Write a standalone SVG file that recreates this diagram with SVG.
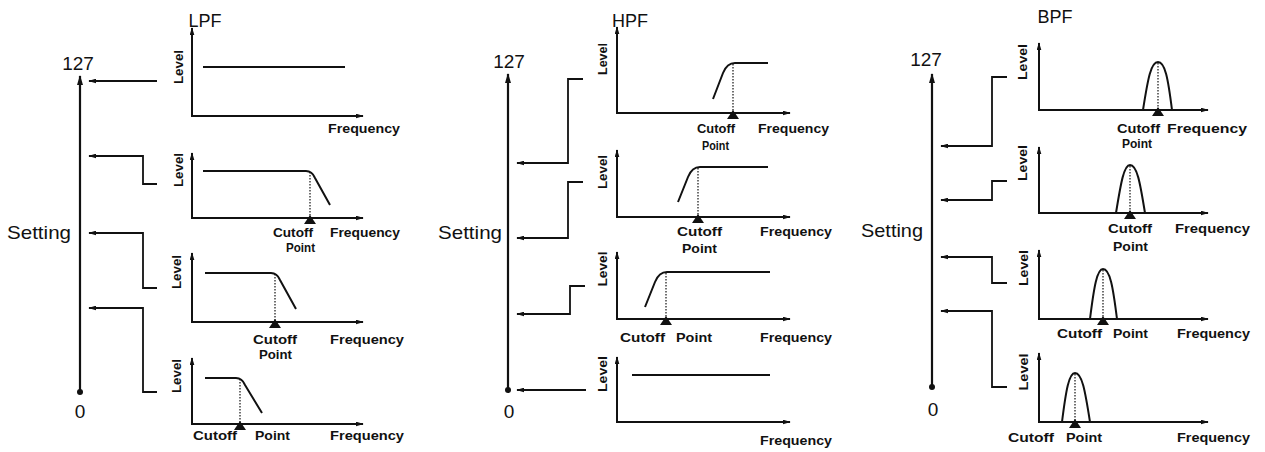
<svg xmlns="http://www.w3.org/2000/svg" width="1265" height="452" viewBox="0 0 1265 452">
<style>
.bg{fill:#fff}
.t{font-family:"Liberation Sans",Arial,sans-serif;fill:#111}
.title{font-size:18px}
.num{font-size:19px}
.lbl{font-size:13px;font-weight:bold}
.lv{font-size:12.5px;font-weight:bold}
.ax{stroke:#111;stroke-width:2;fill:none}
.main{stroke:#111;stroke-width:2.2;fill:none}
.cv{stroke:#111;stroke-width:2;fill:none;stroke-linejoin:round}
.dot{stroke:#111;stroke-width:1.2;stroke-dasharray:1.5 1.5;fill:none}
.con{stroke:#111;stroke-width:1.8;fill:none}
.tri{fill:#111}
</style>
<defs>
<marker id="ah" viewBox="0 0 10 6" refX="9" refY="3" markerWidth="8" markerHeight="5" orient="auto" markerUnits="userSpaceOnUse"><path d="M0,0 L10,3 L0,6 z" fill="#111"/></marker>
<marker id="ahb" viewBox="0 0 10 6" refX="9" refY="3" markerWidth="12" markerHeight="6" orient="auto" markerUnits="userSpaceOnUse"><path d="M0,0 L10,3 L0,6 z" fill="#111"/></marker>
</defs>
<rect class="bg" x="0" y="0" width="1265" height="452"/>

<!-- ========== LPF ========== -->
<g id="lpf-scale">
<text class="t title" x="205" y="27" text-anchor="middle">LPF</text>
<text class="t num" x="78" y="70" text-anchor="middle">127</text>
<text class="t num" x="7" y="239" textLength="64" lengthAdjust="spacingAndGlyphs">Setting</text>
<text class="t num" x="80" y="418" text-anchor="middle">0</text>
<line class="main" x1="80" y1="392" x2="80" y2="76" marker-end="url(#ahb)"/>
<circle cx="80" cy="392" r="3" fill="#111"/>
</g>

<g id="lpf-g1">
<line class="ax" x1="192" y1="116" x2="192" y2="28" marker-end="url(#ah)"/>
<line class="ax" x1="191" y1="116" x2="363" y2="116" marker-end="url(#ah)"/>
<path class="cv" d="M203,67 H345"/>
<text class="t lv" transform="translate(183,67) rotate(-90)" text-anchor="middle" textLength="34" lengthAdjust="spacingAndGlyphs">Level</text>
<text class="t lbl" x="328" y="133" textLength="72" lengthAdjust="spacingAndGlyphs">Frequency</text>
</g>

<g id="lpf-g2">
<line class="ax" x1="192" y1="218" x2="192" y2="153" marker-end="url(#ah)"/>
<line class="ax" x1="191" y1="218" x2="363" y2="218" marker-end="url(#ah)"/>
<path class="cv" d="M203,171 H306 Q312,171 315,178 L330,205"/>
<line class="dot" x1="310" y1="172" x2="310" y2="217"/>
<path class="tri" d="M304,224 L310,215 L316,224 z"/>
<text class="t lv" transform="translate(183,170) rotate(-90)" text-anchor="middle" textLength="34" lengthAdjust="spacingAndGlyphs">Level</text>
<text class="t lbl" x="273" y="237" textLength="40" lengthAdjust="spacingAndGlyphs">Cutoff</text>
<text class="t lbl" x="286" y="252" textLength="29" lengthAdjust="spacingAndGlyphs">Point</text>
<text class="t lbl" x="330" y="237" textLength="70" lengthAdjust="spacingAndGlyphs">Frequency</text>
</g>

<g id="lpf-g3">
<line class="ax" x1="192" y1="322" x2="192" y2="253" marker-end="url(#ah)"/>
<line class="ax" x1="191" y1="322" x2="363" y2="322" marker-end="url(#ah)"/>
<path class="cv" d="M205,273 H271 Q277,273 280,280 L296,309"/>
<line class="dot" x1="275" y1="274" x2="275" y2="321"/>
<path class="tri" d="M269,328 L275,319 L281,328 z"/>
<text class="t lv" transform="translate(181,272) rotate(-90)" text-anchor="middle" textLength="34" lengthAdjust="spacingAndGlyphs">Level</text>
<text class="t lbl" x="253" y="344" textLength="44" lengthAdjust="spacingAndGlyphs">Cutoff</text>
<text class="t lbl" x="259" y="359" textLength="33" lengthAdjust="spacingAndGlyphs">Point</text>
<text class="t lbl" x="330" y="344" textLength="74" lengthAdjust="spacingAndGlyphs">Frequency</text>
</g>

<g id="lpf-g4">
<line class="ax" x1="192" y1="424" x2="192" y2="358" marker-end="url(#ah)"/>
<line class="ax" x1="191" y1="424" x2="363" y2="424" marker-end="url(#ah)"/>
<path class="cv" d="M205,378 H236 Q242,378 245,385 L262,413"/>
<line class="dot" x1="240" y1="379" x2="240" y2="423"/>
<path class="tri" d="M234,430 L240,421 L246,430 z"/>
<text class="t lv" transform="translate(181,376) rotate(-90)" text-anchor="middle" textLength="34" lengthAdjust="spacingAndGlyphs">Level</text>
<text class="t lbl" x="193" y="440" textLength="44" lengthAdjust="spacingAndGlyphs">Cutoff</text>
<text class="t lbl" x="255" y="440" textLength="35" lengthAdjust="spacingAndGlyphs">Point</text>
<text class="t lbl" x="330" y="440" textLength="74" lengthAdjust="spacingAndGlyphs">Frequency</text>
</g>

<!-- ========== HPF ========== -->
<g id="hpf-scale">
<text class="t title" x="630" y="27" text-anchor="middle">HPF</text>
<text class="t num" x="509" y="68" text-anchor="middle">127</text>
<text class="t num" x="438" y="239" textLength="64" lengthAdjust="spacingAndGlyphs">Setting</text>
<text class="t num" x="509" y="418" text-anchor="middle">0</text>
<line class="main" x1="508" y1="390" x2="508" y2="74" marker-end="url(#ahb)"/>
<circle cx="508" cy="390" r="3" fill="#111"/>
</g>

<g id="hpf-g1">
<line class="ax" x1="617" y1="113" x2="617" y2="27" marker-end="url(#ah)"/>
<line class="ax" x1="616" y1="113" x2="790" y2="113" marker-end="url(#ah)"/>
<path class="cv" d="M713,99 L723,73 Q727,63 735,63 H768"/>
<line class="dot" x1="733" y1="64" x2="733" y2="112"/>
<path class="tri" d="M727,119 L733,110 L739,119 z"/>
<text class="t lv" transform="translate(607,59) rotate(-90)" text-anchor="middle" textLength="32" lengthAdjust="spacingAndGlyphs">Level</text>
<text class="t lbl" x="697" y="133" textLength="38" lengthAdjust="spacingAndGlyphs">Cutoff</text>
<text class="t lbl" x="702" y="150" textLength="27" lengthAdjust="spacingAndGlyphs">Point</text>
<text class="t lbl" x="758" y="133" textLength="71" lengthAdjust="spacingAndGlyphs">Frequency</text>
</g>

<g id="hpf-g2">
<line class="ax" x1="617" y1="217" x2="617" y2="150" marker-end="url(#ah)"/>
<line class="ax" x1="616" y1="217" x2="790" y2="217" marker-end="url(#ah)"/>
<path class="cv" d="M678,202 L688,177 Q692,167 700,167 H768"/>
<line class="dot" x1="698" y1="168" x2="698" y2="216"/>
<path class="tri" d="M692,223 L698,214 L704,223 z"/>
<text class="t lv" transform="translate(607,172) rotate(-90)" text-anchor="middle" textLength="34" lengthAdjust="spacingAndGlyphs">Level</text>
<text class="t lbl" x="677" y="236" textLength="45" lengthAdjust="spacingAndGlyphs">Cutoff</text>
<text class="t lbl" x="682" y="253" textLength="35" lengthAdjust="spacingAndGlyphs">Point</text>
<text class="t lbl" x="760" y="236" textLength="72" lengthAdjust="spacingAndGlyphs">Frequency</text>
</g>

<g id="hpf-g3">
<line class="ax" x1="617" y1="319" x2="617" y2="252" marker-end="url(#ah)"/>
<line class="ax" x1="616" y1="319" x2="790" y2="319" marker-end="url(#ah)"/>
<path class="cv" d="M645,307 L655,282 Q659,272 667,272 H770"/>
<line class="dot" x1="666" y1="273" x2="666" y2="318"/>
<path class="tri" d="M660,325 L666,316 L672,325 z"/>
<text class="t lv" transform="translate(607,269) rotate(-90)" text-anchor="middle" textLength="35" lengthAdjust="spacingAndGlyphs">Level</text>
<text class="t lbl" x="620" y="342" textLength="45" lengthAdjust="spacingAndGlyphs">Cutoff</text>
<text class="t lbl" x="676" y="342" textLength="36" lengthAdjust="spacingAndGlyphs">Point</text>
<text class="t lbl" x="760" y="342" textLength="72" lengthAdjust="spacingAndGlyphs">Frequency</text>
</g>

<g id="hpf-g4">
<line class="ax" x1="617" y1="422" x2="617" y2="357" marker-end="url(#ah)"/>
<line class="ax" x1="616" y1="422" x2="790" y2="422" marker-end="url(#ah)"/>
<path class="cv" d="M632,375 H770"/>
<text class="t lv" transform="translate(607,374) rotate(-90)" text-anchor="middle" textLength="36" lengthAdjust="spacingAndGlyphs">Level</text>
<text class="t lbl" x="760" y="445" textLength="72" lengthAdjust="spacingAndGlyphs">Frequency</text>
</g>

<!-- ========== BPF ========== -->
<g id="bpf-scale">
<text class="t title" x="1055" y="23" text-anchor="middle">BPF</text>
<text class="t num" x="926" y="66" text-anchor="middle">127</text>
<text class="t num" x="861" y="237" textLength="62" lengthAdjust="spacingAndGlyphs">Setting</text>
<text class="t num" x="933" y="416" text-anchor="middle">0</text>
<line class="main" x1="932" y1="387" x2="932" y2="74" marker-end="url(#ahb)"/>
<circle cx="932" cy="387" r="3" fill="#111"/>
</g>

<g id="bpf-g1">
<line class="ax" x1="1039" y1="110" x2="1039" y2="43" marker-end="url(#ah)"/>
<line class="ax" x1="1038" y1="110" x2="1208" y2="110" marker-end="url(#ah)"/>
<path class="cv" d="M1143,110 C1148,78 1151,62 1158,62 C1165,62 1168,78 1172,110"/>
<line class="dot" x1="1158" y1="63" x2="1158" y2="109"/>
<path class="tri" d="M1152,116 L1158,107 L1164,116 z"/>
<text class="t lv" transform="translate(1027,62) rotate(-90)" text-anchor="middle" textLength="36" lengthAdjust="spacingAndGlyphs">Level</text>
<text class="t lbl" x="1117" y="133" textLength="43" lengthAdjust="spacingAndGlyphs">Cutoff</text>
<text class="t lbl" x="1122" y="148" textLength="30" lengthAdjust="spacingAndGlyphs">Point</text>
<text class="t lbl" x="1167" y="133" textLength="80" lengthAdjust="spacingAndGlyphs">Frequency</text>
</g>

<g id="bpf-g2">
<line class="ax" x1="1039" y1="213" x2="1039" y2="147" marker-end="url(#ah)"/>
<line class="ax" x1="1038" y1="213" x2="1208" y2="213" marker-end="url(#ah)"/>
<path class="cv" d="M1116,213 C1121,182 1124,165 1130,165 C1137,165 1140,182 1145,213"/>
<line class="dot" x1="1130" y1="166" x2="1130" y2="212"/>
<path class="tri" d="M1124,219 L1130,210 L1136,219 z"/>
<text class="t lv" transform="translate(1027,163) rotate(-90)" text-anchor="middle" textLength="36" lengthAdjust="spacingAndGlyphs">Level</text>
<text class="t lbl" x="1108" y="233" textLength="44" lengthAdjust="spacingAndGlyphs">Cutoff</text>
<text class="t lbl" x="1113" y="251" textLength="35" lengthAdjust="spacingAndGlyphs">Point</text>
<text class="t lbl" x="1175" y="233" textLength="75" lengthAdjust="spacingAndGlyphs">Frequency</text>
</g>

<g id="bpf-g3">
<line class="ax" x1="1039" y1="319" x2="1039" y2="250" marker-end="url(#ah)"/>
<line class="ax" x1="1038" y1="319" x2="1208" y2="319" marker-end="url(#ah)"/>
<path class="cv" d="M1090,319 C1094,287 1097,269 1103,269 C1110,269 1113,287 1117,319"/>
<line class="dot" x1="1103" y1="270" x2="1103" y2="318"/>
<path class="tri" d="M1097,325 L1103,316 L1109,325 z"/>
<text class="t lv" transform="translate(1028,268) rotate(-90)" text-anchor="middle" textLength="36" lengthAdjust="spacingAndGlyphs">Level</text>
<text class="t lbl" x="1057" y="338" textLength="45" lengthAdjust="spacingAndGlyphs">Cutoff</text>
<text class="t lbl" x="1113" y="338" textLength="35" lengthAdjust="spacingAndGlyphs">Point</text>
<text class="t lbl" x="1177" y="338" textLength="73" lengthAdjust="spacingAndGlyphs">Frequency</text>
</g>

<g id="bpf-g4">
<line class="ax" x1="1039" y1="422" x2="1039" y2="353" marker-end="url(#ah)"/>
<line class="ax" x1="1038" y1="422" x2="1208" y2="422" marker-end="url(#ah)"/>
<path class="cv" d="M1062,422 C1066,390 1069,373 1075,373 C1082,373 1085,390 1090,422"/>
<line class="dot" x1="1075" y1="374" x2="1075" y2="421"/>
<path class="tri" d="M1069,428 L1075,419 L1081,428 z"/>
<text class="t lv" transform="translate(1028,372) rotate(-90)" text-anchor="middle" textLength="37" lengthAdjust="spacingAndGlyphs">Level</text>
<text class="t lbl" x="1008" y="442" textLength="46" lengthAdjust="spacingAndGlyphs">Cutoff</text>
<text class="t lbl" x="1066" y="442" textLength="36" lengthAdjust="spacingAndGlyphs">Point</text>
<text class="t lbl" x="1177" y="442" textLength="73" lengthAdjust="spacingAndGlyphs">Frequency</text>
</g>

<!-- ========== Connectors ========== -->
<g id="connectors">
<path class="con" d="M157,81 H89" marker-end="url(#ah)"/>
<path class="con" d="M157,184 H143 V156 H89" marker-end="url(#ah)"/>
<path class="con" d="M157,288 H143 V233 H89" marker-end="url(#ah)"/>
<path class="con" d="M157,392 H143 V308 H89" marker-end="url(#ah)"/>

<path class="con" d="M583,79 H568 V163 H517" marker-end="url(#ah)"/>
<path class="con" d="M583,182 H568 V238 H517" marker-end="url(#ah)"/>
<path class="con" d="M585,286 H570 V314 H517" marker-end="url(#ah)"/>
<path class="con" d="M586,390 H517" marker-end="url(#ah)"/>

<path class="con" d="M1007,77 H992 V146 H941" marker-end="url(#ah)"/>
<path class="con" d="M1007,181 H992 V200 H941" marker-end="url(#ah)"/>
<path class="con" d="M1007,283 H992 V257 H941" marker-end="url(#ah)"/>
<path class="con" d="M1007,387 H992 V311 H941" marker-end="url(#ah)"/>
</g>
</svg>
